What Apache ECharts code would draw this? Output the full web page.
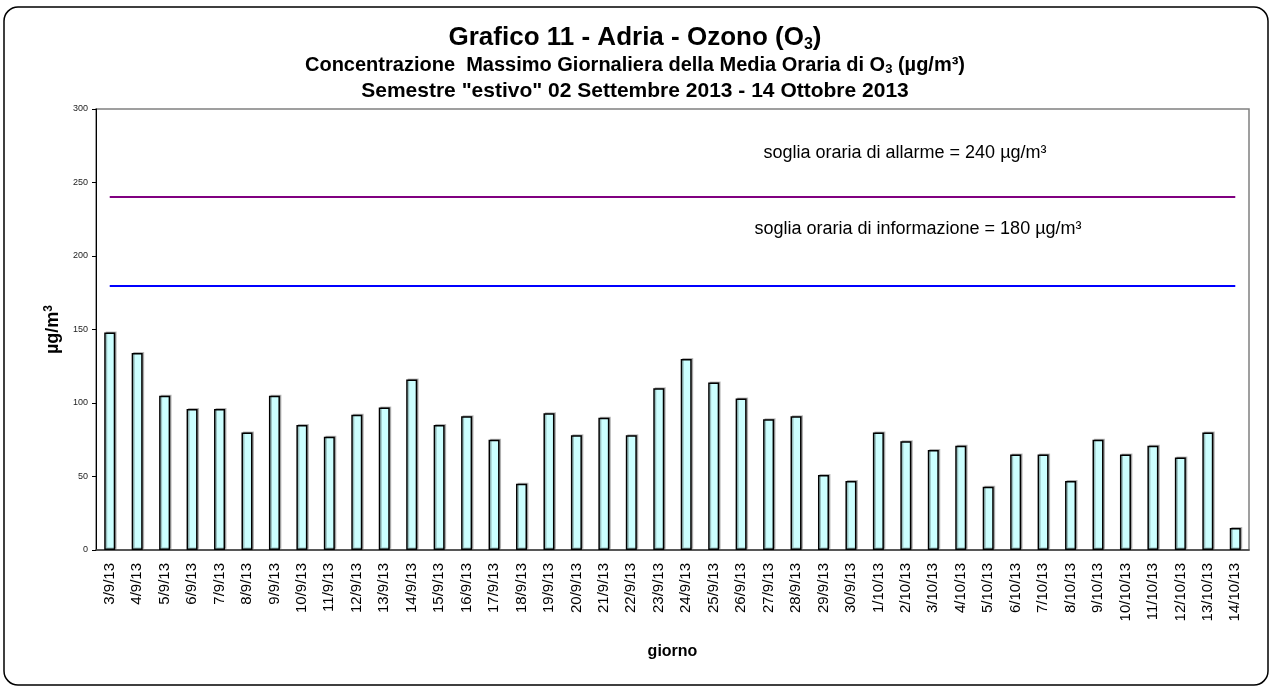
<!DOCTYPE html>
<html>
<head>
<meta charset="utf-8">
<title>Grafico 11 - Adria - Ozono</title>
<script src="https://cdn.jsdelivr.net/npm/echarts@6.0.0/dist/echarts.min.js"></script>
<style>
    html, body { margin: 0; padding: 0; background: #fff; }
    #ozonoChart { width: 1270px; height: 687px; }
</style>
</head>
<body>
<div id="ozonoChart"></div>
<script>
// giorni del periodo (asse x)
var giorni = [
    '3/9/13', '4/9/13', '5/9/13', '6/9/13', '7/9/13', '8/9/13', '9/9/13', '10/9/13',
    '11/9/13', '12/9/13', '13/9/13', '14/9/13', '15/9/13', '16/9/13', '17/9/13', '18/9/13',
    '19/9/13', '20/9/13', '21/9/13', '22/9/13', '23/9/13', '24/9/13', '25/9/13', '26/9/13',
    '27/9/13', '28/9/13', '29/9/13', '30/9/13', '1/10/13', '2/10/13', '3/10/13', '4/10/13',
    '5/10/13', '6/10/13', '7/10/13', '8/10/13', '9/10/13', '10/10/13', '11/10/13', '12/10/13',
    '13/10/13', '14/10/13'
];

// massimo giornaliero della media oraria di O3 (µg/m³)
var massimoOrario = [
    148, 134, 105, 96, 96, 80, 105, 85, 77, 92, 97, 116, 85, 91,
    75, 45, 93, 78, 90, 78, 110, 130, 114, 103, 89, 91, 51, 47,
    80, 74, 68, 71, 43, 65, 65, 47, 75, 65, 71, 63, 80, 15
];

// tacche asse y
var tackeY = [0, 50, 100, 150, 200, 250, 300];

// soglie orarie
var sogliaAllarme = 240;
var sogliaInformazione = 180;

var FONT = "'Liberation Sans', Arial, sans-serif";

function init() {
    var chart = echarts.init(document.getElementById('ozonoChart'));
    chart.setOption(makeOptions());
}

function makeOptions() {
    var titleRich = {
        t: { fontFamily: FONT, fontWeight: 'bold', fontSize: 26, lineHeight: 30, color: '#000' },
        ts: { fontFamily: FONT, fontWeight: 'bold', fontSize: 16, lineHeight: 16, color: '#000', verticalAlign: 'bottom' },
        b: { fontFamily: FONT, fontWeight: 'bold', fontSize: 20, lineHeight: 22, color: '#000' },
        bs: { fontFamily: FONT, fontWeight: 'bold', fontSize: 13, lineHeight: 13, color: '#000', verticalAlign: 'bottom' },
        c: { fontFamily: FONT, fontWeight: 'bold', fontSize: 21, lineHeight: 22, color: '#000' }
    };

    var option = {
        backgroundColor: '#fff',
        animation: false,
        title: [
            {
                text: '{t|Grafico 11 - Adria - Ozono (O}{ts|3}{t|)}',
                left: 'center', top: 23, padding: 0,
                textStyle: { rich: titleRich }
            },
            {
                text: '{b|Concentrazione  Massimo Giornaliera della Media Oraria di O}{bs|3}{b| (µg/m³)}',
                left: 'center', top: 54, padding: 0,
                textStyle: { rich: titleRich }
            },
            {
                text: '{c|Semestre "estivo" 02 Settembre 2013 - 14 Ottobre 2013}',
                left: 'center', top: 80, padding: 0,
                textStyle: { rich: titleRich }
            }
        ],
        grid: {
            left: 96, right: 21, top: 109, bottom: 137,
            show: true,
            borderColor: '#808080',
            borderWidth: 1.5
        },
        xAxis: {
            type: 'category',
            data: giorni,
            name: 'giorno',
            nameLocation: 'middle',
            nameGap: 94,
            nameTextStyle: { fontFamily: FONT, fontWeight: 'bold', fontSize: 16, color: '#000' },
            axisLine: { lineStyle: { color: '#404040', width: 1.5 } },
            axisTick: { length: 4, lineStyle: { color: '#202020' } },
            axisLabel: {
                rotate: 90,
                interval: 0,
                margin: 13,
                fontFamily: FONT,
                fontSize: 15,
                color: '#000'
            }
        },
        yAxis: {
            type: 'value',
            min: tackeY[0],
            max: tackeY[tackeY.length - 1],
            interval: tackeY[1] - tackeY[0],
            name: '{a|µg/m}{s|3}',
            nameLocation: 'middle',
            nameGap: 31,
            nameTextStyle: {
                rich: {
                    a: { fontFamily: FONT, fontWeight: 'bold', fontSize: 18, lineHeight: 20, color: '#000' },
                    s: { fontFamily: FONT, fontWeight: 'bold', fontSize: 12, lineHeight: 12, color: '#000', verticalAlign: 'top' }
                }
            },
            splitLine: { show: false },
            axisLine: { show: true, lineStyle: { color: '#000', width: 1 } },
            axisTick: { show: true, length: 4, lineStyle: { color: '#000' } },
            axisLabel: { margin: 8, fontFamily: FONT, fontSize: 9, color: '#222' }
        },
        series: [
            {
                name: 'O3',
                type: 'bar',
                data: massimoOrario,
                barWidth: 11,
                itemStyle: {
                    color: '#CCFFFF',
                    borderColor: '#000',
                    borderWidth: 1.5,
                    shadowColor: 'rgba(0,0,0,0.25)',
                    shadowOffsetX: 1.5,
                    shadowOffsetY: -1
                },
                markLine: {
                    silent: true,
                    symbol: 'none',
                    label: { show: false },
                    data: [
                        [
                            { coord: [giorni[0], sogliaAllarme], lineStyle: { color: '#800080', width: 2, type: 'solid' } },
                            { coord: [giorni[giorni.length - 1], sogliaAllarme] }
                        ],
                        [
                            { coord: [giorni[0], sogliaInformazione], lineStyle: { color: '#0000FF', width: 2, type: 'solid' } },
                            { coord: [giorni[giorni.length - 1], sogliaInformazione] }
                        ]
                    ]
                }
            }
        ],
        graphic: [
            {
                // cornice esterna arrotondata
                type: 'rect',
                shape: { x: 4, y: 7, width: 1264, height: 678, r: 14 },
                style: { fill: 'none', stroke: '#000', lineWidth: 1.5 },
                silent: true
            },
            {
                type: 'text',
                x: 905, y: 153,
                style: {
                    text: 'soglia oraria di allarme = ' + sogliaAllarme + ' µg/m³',
                    font: '18px ' + FONT,
                    fill: '#000',
                    textAlign: 'center',
                    textVerticalAlign: 'middle'
                }
            },
            {
                type: 'text',
                x: 918, y: 229,
                style: {
                    text: 'soglia oraria di informazione = ' + sogliaInformazione + ' µg/m³',
                    font: '18px ' + FONT,
                    fill: '#000',
                    textAlign: 'center',
                    textVerticalAlign: 'middle'
                }
            }
        ]
    };
    return option;
}

init();
</script>
</body>
</html>
